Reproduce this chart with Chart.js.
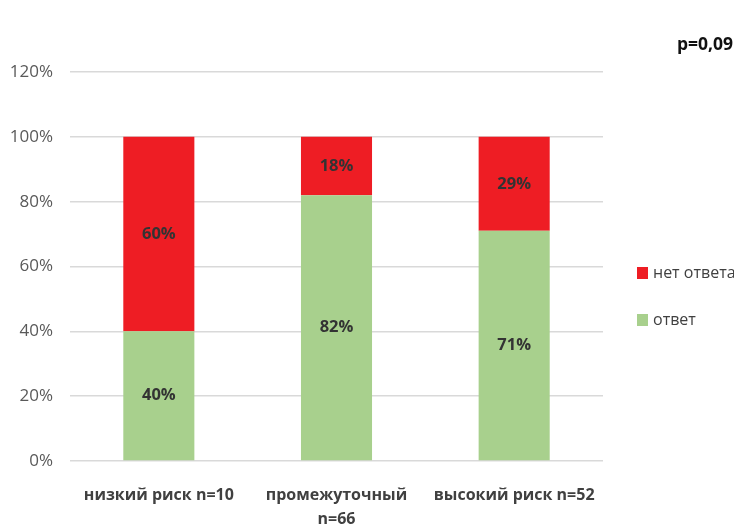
<!DOCTYPE html>
<html>
<head>
<meta charset="utf-8">
<script src="https://cdn.jsdelivr.net/npm/chart.js@4/dist/chart.umd.min.js"></script>
<style>
  html, body { margin: 0; padding: 0; background: #fff; }
  #wrap { width: 734px; height: 529px; position: relative; }
</style>
</head>
<body>
<div id="wrap"><canvas id="c" width="734" height="529"></canvas></div>
<script>
// Risk groups (x axis)
const categories = [["низкий риск n=10"], ["промежуточный", "n=66"], ["высокий риск n=52"]];
// Share of patients, %
const responded = [40, 82, 71];      // ответ
const noResponse = [60, 18, 29];     // нет ответа
const yTicks = [0, 20, 40, 60, 80, 100, 120];
const pValueText = "p=0,09";

const RED = "#ee1d24";
const GREEN = "#a8d08d";
const FONT = "'Open Sans', 'DejaVu Sans', sans-serif";

// Percent labels in the middle of each segment
const segmentLabels = {
  id: "segmentLabels",
  afterDatasetsDraw(chart) {
    const ctx = chart.ctx;
    ctx.save();
    ctx.font = "bold 16.5px " + FONT;
    ctx.fillStyle = "#333333";
    ctx.textAlign = "center";
    ctx.textBaseline = "middle";
    chart.data.datasets.forEach((ds, di) => {
      const meta = chart.getDatasetMeta(di);
      meta.data.forEach((bar, i) => {
        const p = bar.getProps(["x", "y", "base"], true);
        ctx.fillText(ds.data[i] + "%", p.x, (p.y + p.base) / 2);
      });
    });
    ctx.restore();
  }
};

// Legend on the right and the p-value in the corner
const sideNotes = {
  id: "sideNotes",
  afterDraw(chart) {
    const ctx = chart.ctx;
    ctx.save();
    ctx.textBaseline = "middle";
    ctx.textAlign = "left";
    ctx.font = "16px " + FONT;
    const items = [
      { text: "нет ответа", color: RED, y: 273 },
      { text: "ответ", color: GREEN, y: 320 }
    ];
    items.forEach(it => {
      ctx.fillStyle = it.color;
      ctx.fillRect(637, it.y - 6, 11, 12);
      ctx.fillStyle = "#404040";
      ctx.fillText(it.text, 653, it.y);
    });
    ctx.font = "bold 17.5px " + FONT;
    ctx.textAlign = "right";
    ctx.fillStyle = "#111111";
    ctx.fillText(pValueText, 733, 45);
    ctx.restore();
  }
};

new Chart(document.getElementById("c"), {
  type: "bar",
  data: {
    labels: categories,
    datasets: [
      { label: "ответ", data: responded, backgroundColor: GREEN, borderWidth: 0, categoryPercentage: 1, barPercentage: 0.4 },
      { label: "нет ответа", data: noResponse, backgroundColor: RED, borderWidth: 0, categoryPercentage: 1, barPercentage: 0.4 }
    ]
  },
  options: {
    responsive: false,
    animation: false,
    devicePixelRatio: 1,
    layout: { padding: { left: 0, right: 131, top: 72, bottom: 0 } },
    plugins: { legend: { display: false }, tooltip: { enabled: false } },
    scales: {
      x: {
        stacked: true,
        grid: { display: false },
        border: { display: false },
        ticks: {
          color: "#404040",
          font: { family: FONT, size: 16, weight: "bold", lineHeight: 1.5 },
          padding: 14,
          maxRotation: 0,
          autoSkip: false
        },
        afterFit(scale) { scale.height = 68; }
      },
      y: {
        stacked: true,
        min: 0,
        max: 120,
        afterBuildTicks(scale) { scale.ticks = yTicks.map(v => ({ value: v })); },
        grid: { color: "#d9d9d9", lineWidth: 1.5, drawTicks: false },
        border: { display: false },
        ticks: {
          color: "#595959",
          font: { family: FONT, size: 17 },
          padding: 17,
          callback: v => v + "%"
        },
        afterFit(scale) { scale.width = 70; }
      }
    }
  },
  plugins: [segmentLabels, sideNotes]
});
</script>
</body>
</html>
